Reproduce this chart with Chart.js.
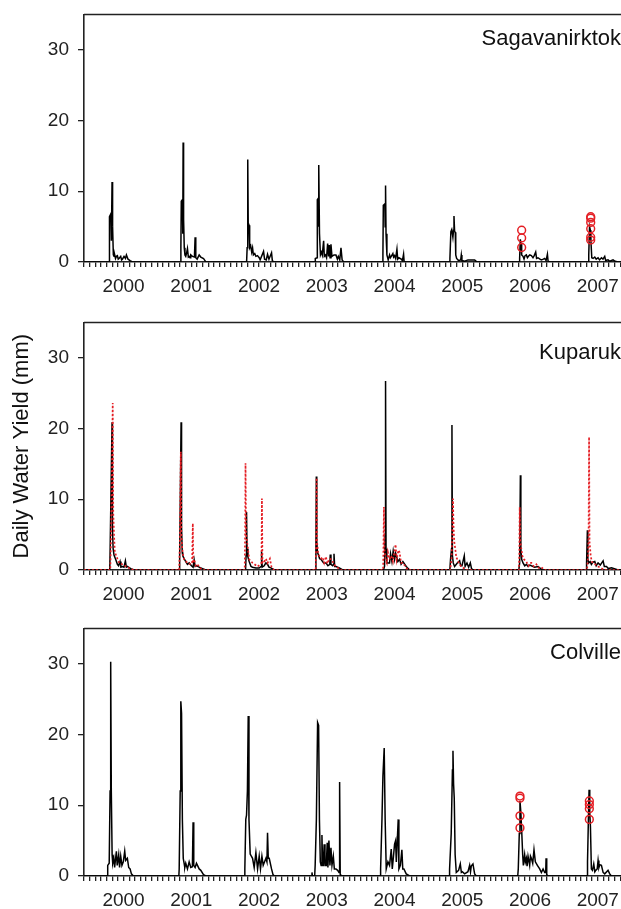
<!DOCTYPE html>
<html>
<head>
<meta charset="utf-8">
<script src="https://cdn.jsdelivr.net/npm/chart.js@4.4.1/dist/chart.umd.min.js"></script>
<style>
  html, body { margin: 0; padding: 0; background: #fff; overflow: hidden; }
  body { width: 621px; height: 909px; position: relative; }
  canvas { position: absolute; left: 0; }
</style>
</head>
<body>
<canvas id="sag" width="634" height="308" style="top:-6px"></canvas>
<canvas id="kup" width="634" height="308" style="top:302px"></canvas>
<canvas id="col" width="634" height="308" style="top:608px"></canvas>
<script>
// years and axis labels
var years = [2000, 2001, 2002, 2003, 2004, 2005, 2006, 2007];
var yearLabels = ["2000", "2001", "2002", "2003", "2004", "2005", "2006", "2007"];
var yTicks = [0, 10, 20, 30];

// Sagavanirktok, observed (fraction of year / mm per day), one row per year
var sagT = [
  [.370,.374,.378,.396,.404,.414,.422,.433,.443,.453,.465,.478,.493,.505,.517,.542,.555,.567,.591,.612,.626,.650,.680,.714],
  [.425,.430,.436,.452,.458,.463,.470,.480,.490,.502,.515,.527,.540,.552,.565,.576,.601,.630,.640,.650,.670,.700,.724,.764,.798],
  [.400,.408,.417,.424,.436,.445,.460,.475,.488,.500,.520,.537,.560,.586,.600,.650,.665,.690,.709,.730,.768,.780,.798],
  [.410,.414,.440,.444,.458,.462,.468,.476,.490,.505,.517,.537,.547,.565,.580,.596,.610,.621,.632,.645,.660,.690,.719,.740,.754,.775,.793,.810,.833],
  [.408,.412,.418,.440,.445,.451,.458,.471,.490,.510,.522,.535,.559,.570,.584,.600,.619,.630,.648,.683,.700,.717,.725,.742],
  [.397,.401,.415,.428,.445,.455,.461,.470,.480,.487,.500,.529,.560,.569,.578,.620,.667,.716,.766,.790,.805],
  [.426,.430,.440,.452,.460,.480,.495,.510,.529,.545,.560,.580,.603,.627,.645,.667,.680,.701,.730,.750,.780,.800,.820,.840,.850,.874],
  [.446,.450,.462,.474,.482,.495,.514,.539,.560,.588,.610,.637,.660,.686,.700,.735,.760,.809,.840,.883]
];
var sagV = [
  [0,1.8,6.4,6.8,3.0,11.3,5.0,1.0,0.8,1.0,0.5,0.8,0.9,0.4,0.5,0.8,0.3,0.4,0.8,0.5,1.0,0.4,0.2,0],
  [0,2.0,8.6,8.8,4.0,16.9,6.0,2.0,1.0,0.8,1.3,1.9,0.7,0.8,0.6,1.0,0.8,0.7,3.5,0.6,0.4,1.0,0.7,0.5,0],
  [0,2.0,14.5,5.5,5.2,2.0,2.3,1.4,2.0,1.0,1.2,0.8,0.9,0.6,0.3,1.5,0.4,0.3,1.1,0.4,1.3,0.2,0],
  [0,0.5,0.6,8.8,9.0,5.0,13.7,4.0,1.0,1.4,1.0,3.0,0.8,1.0,0.6,2.6,0.8,2.4,0.6,2.5,0.8,1.0,1.0,0.4,0.8,0.3,2.0,0.3,0],
  [0,1.0,8.0,8.2,5.0,10.8,4.0,1.0,0.3,1.0,0.6,0.8,1.2,0.7,0.9,0.5,1.8,0.4,0.6,0.4,0.2,1.1,0.1,0],
  [0,0.5,4.3,4.6,3.5,4.5,6.5,4.3,4.2,1.0,0.5,0.2,0.3,1.0,0.2,0.1,0.3,0.3,0.3,0.1,0],
  [0,0.5,3.2,2.5,1.0,0.8,0.4,0.9,1.0,0.6,0.8,1.0,0.9,0.6,0.9,1.4,0.5,0.6,0.4,0.3,0.4,0.5,0.2,1.1,0.1,0],
  [0,1.0,5.0,4.5,3.0,0.6,0.5,0.7,0.4,0.6,0.3,0.6,0.4,0.8,0.2,0.3,0.1,0.3,0.1,0]
];
// Sagavanirktok, red circles
var sagCircX = [2006.460, 2006.460, 2006.460, 2007.479, 2007.479, 2007.479, 2007.479, 2007.479, 2007.479];
var sagCircY = [4.5, 3.4, 2.05, 6.4, 6.2, 5.6, 4.7, 3.5, 3.1];

// Kuparuk, observed
var kupObsT = [
  [.380,.386,.414,.420,.430,.443,.468,.493,.510,.532,.545,.567,.590,.611,.625,.640,.690,.739],
  [.405,.412,.433,.440,.450,.458,.478,.502,.527,.552,.586,.610,.626,.640,.665,.700,.749,.798],
  [.385,.392,.399,.406,.420,.438,.465,.488,.537,.586,.615,.621,.630,.660,.685,.709,.730,.759,.808],
  [.418,.423,.429,.436,.446,.458,.478,.498,.537,.571,.600,.628,.635,.645,.670,.684,.690,.700,.719,.768,.818],
  [.420,.436,.444,.451,.458,.470,.486,.510,.525,.545,.564,.584,.599,.633,.658,.680,.707,.756,.806],
  [.400,.410,.425,.431,.438,.450,.470,.510,.544,.560,.579,.613,.625,.653,.677,.702,.720,.741],
  [.418,.430,.441,.448,.460,.480,.505,.530,.554,.580,.603,.652,.702,.740,.776],
  [.412,.418,.430,.437,.450,.470,.489,.510,.539,.560,.588,.620,.662,.680,.712,.740,.786,.884]
];
var kupObsV = [
  [0,3.0,20.9,6.0,3.0,2.1,1.5,0.8,0.6,1.2,0.4,0.5,0.4,1.3,0.4,0.5,0.2,0],
  [0,2.0,20.9,6.0,2.5,2.0,1.6,1.2,0.8,1.0,0.6,0.4,1.4,0.5,0.6,0.4,0.2,0],
  [0,2.0,8.2,3.0,1.8,1.2,0.5,0.4,0.3,0.3,0.5,2.6,0.4,0.6,1.0,0.8,0.4,0.3,0],
  [0,3.0,13.2,4.0,2.5,2.2,1.6,1.5,1.0,1.0,0.6,0.8,2.2,0.8,0.6,0.8,2.3,0.5,0.5,0.3,0],
  [0,0.5,5.0,26.7,3.0,1.0,1.0,1.0,2.3,1.2,2.7,1.5,2.4,1.2,1.5,0.8,1.2,0.5,0],
  [0,1.5,3.0,20.5,2.0,1.0,0.5,1.0,1.3,0.6,0.6,2.0,0.5,1.0,0.4,1.0,0.2,0],
  [0,1.0,13.4,3.0,1.5,1.0,0.6,0.8,0.5,0.7,0.6,0.4,0.5,0.2,0],
  [0,1.0,5.6,1.5,1.0,1.2,0.8,1.1,1.2,0.6,1.0,0.7,1.3,0.5,0.5,0.2,0.3,0]
];
// Kuparuk, simulated (red dotted)
var kupSimT = [
  [.388,.400,.424,.432,.443,.455,.468,.493,.520,.542,.591,.640,.700,.739],
  [.405,.415,.429,.436,.450,.465,.478,.527,.576,.596,.606,.614,.626,.650,.675,.710,.749],
  [.372,.378,.384,.392,.414,.438,.488,.562,.600,.620,.626,.634,.650,.685,.709,.744,.768,.808],
  [.420,.426,.433,.440,.455,.473,.500,.522,.545,.571,.590,.621,.655,.690,.719,.793],
  [.415,.420,.427,.434,.450,.470,.486,.510,.535,.560,.580,.599,.615,.640,.658,.680,.707,.781],
  [.405,.425,.438,.446,.455,.465,.480,.495,.510,.540,.569,.643],
  [.418,.425,.431,.440,.455,.470,.495,.529,.560,.580,.603,.640,.677,.710,.751,.800],
  [.425,.440,.448,.455,.462,.479,.495,.514,.588,.686]
];
var kupSimV = [
  [0,5.0,23.6,8.0,5.0,2.5,2.2,1.6,1.0,0.9,0.7,0.4,0.1,0],
  [0,4.0,16.7,5.0,3.0,2.0,1.5,1.0,0.8,1.0,6.6,1.0,1.5,0.6,0.8,0.3,0],
  [0,5.0,15.1,5.0,3.5,1.5,1.0,0.5,0.8,1.0,10.1,1.0,1.0,1.6,1.0,1.6,0.4,0],
  [0,4.0,13.0,4.0,2.5,2.0,1.6,1.8,1.0,1.9,0.9,1.6,1.5,0.8,0.5,0],
  [0,3.0,8.9,3.0,1.5,1.0,2.5,1.5,2.0,1.2,2.5,3.6,1.5,2.8,2.5,1.0,1.0,0],
  [0,1.5,6.0,10.1,6.0,4.0,3.0,1.8,1.5,0.8,0.5,0],
  [0,2.0,8.9,4.0,3.0,2.0,1.5,1.2,0.6,1.0,1.0,0.5,0.8,0.3,0.4,0],
  [0,2.0,5.0,18.8,4.0,2.0,1.2,1.0,0.5,0]
];

// Colville, observed
var colT = [
  [.340,.350,.372,.385,.394,.403,.415,.424,.440,.452,.478,.490,.512,.525,.542,.560,.580,.601,.615,.640,.660,.680,.700,.729],
  [.400,.405,.420,.429,.440,.452,.465,.478,.488,.502,.527,.552,.576,.600,.610,.620,.640,.660,.675,.700,.724,.764,.798],
  [.368,.374,.388,.399,.412,.424,.435,.453,.470,.488,.512,.537,.562,.586,.605,.626,.645,.685,.700,.709,.720,.734,.768,.790,.808],
  [.360,.365,.372,.405,.412,.430,.448,.463,.475,.488,.500,.512,.522,.532,.545,.557,.576,.590,.600,.615,.630,.645,.660,.680,.695,.719,.744,.764,.773,.782,.793],
  [.372,.378,.398,.412,.431,.445,.461,.486,.510,.535,.550,.565,.584,.599,.610,.638,.648,.670,.692,.705,.722,.756,.806],
  [.390,.396,.420,.438,.446,.455,.465,.478,.495,.529,.554,.570,.584,.618,.667,.692,.705,.716,.741,.766,.790],
  [.402,.410,.425,.435,.448,.460,.475,.485,.504,.515,.529,.540,.554,.578,.590,.603,.623,.642,.662,.692,.726,.751,.776,.800,.815,.820,.830,.849],
  [.425,.432,.445,.455,.465,.475,.489,.505,.524,.540,.553,.575,.588,.600,.613,.637,.662,.686,.735,.760,.784]
];
var colV = [
  [0,1.5,1.8,12.0,30.3,12.0,3.0,1.8,2.5,1.2,3.5,1.5,3.0,1.2,2.8,1.5,2.0,3.5,2.2,2.5,1.2,1.0,0.3,0],
  [0,1.0,12.0,24.7,23.0,8.0,2.5,1.8,1.2,1.8,1.0,2.0,1.2,1.3,7.6,1.5,1.2,1.8,1.5,1.0,0.8,0.2,0],
  [0,1.0,8.0,8.6,12.0,22.6,8.0,3.1,2.8,2.5,1.2,3.3,1.0,2.8,1.0,2.8,1.5,2.5,2.0,6.1,2.5,2.5,1.0,0.2,0],
  [0,0.5,0,0,1.5,8.0,21.7,21.3,8.0,2.0,1.5,5.8,1.5,1.5,4.5,1.5,1.5,4.7,1.2,5.0,1.5,4.0,1.5,2.8,1.0,1.0,0.8,0.5,13.3,0.2,0],
  [0,1.0,8.0,14.1,18.1,8.0,1.0,2.0,1.5,3.8,1.0,2.5,4.5,5.0,2.0,8.0,1.0,1.5,3.7,1.0,1.0,0.3,0],
  [0,1.0,6.0,15.0,17.7,13.0,11.0,3.0,0.5,0.8,1.7,0.5,0.6,0.3,0.6,1.5,0.6,1.4,1.7,0.3,0],
  [0,1.0,6.0,10.6,9.0,6.5,3.0,1.5,3.0,2.0,2.5,1.4,2.8,1.5,2.8,2.5,1.8,3.7,2.0,1.5,1.0,0.5,1.0,0.5,0.5,2.5,0.2,0],
  [0,2.0,8.0,12.2,9.0,7.0,1.0,0.8,1.7,0.6,0.8,1.0,2.2,1.2,1.6,1.5,0.5,0.3,0.8,0.3,0]
];
// Colville, red circles
var colCircX = [2006.435, 2006.435, 2006.435, 2006.435, 2007.459, 2007.459, 2007.459, 2007.459];
var colCircY = [11.3, 11.0, 8.5, 6.8, 10.6, 10.1, 9.5, 8.0];

var FONT = '"Liberation Sans", Arial, Helvetica, sans-serif';
var RED = "rgb(228,30,36)";
Chart.defaults.font.family = FONT;

// monthly tick marks along the x axis
var monthTicks = [];
for (var m = 0; m <= 96; m++) monthTicks.push(2000 + m / 12);

function series(t, v) {
  var pts = [{ x: 2000, y: 0 }];
  years.forEach(function (yr, k) {
    t[k].forEach(function (f, i) {
      pts.push({ x: yr + f, y: v[k][i] });
    });
  });
  pts.push({ x: 2008, y: 0 });
  return pts;
}

function points(xs, ys) {
  return xs.map(function (x, i) { return { x: x, y: ys[i] }; });
}

function obsLine(data) {
  return { data: data, borderColor: "#000", borderWidth: 1.5, pointRadius: 0, tension: 0 };
}

function circles(data) {
  return {
    data: data, showLine: false, pointRadius: 3.9, pointHoverRadius: 3.9,
    pointBorderColor: RED, pointBackgroundColor: "rgba(0,0,0,0)", pointBorderWidth: 1.5
  };
}

// top frame line and river name
var panelDecor = {
  id: "panelDecor",
  afterDraw: function (chart, args, opts) {
    var ctx = chart.ctx, a = chart.chartArea;
    ctx.save();
    ctx.strokeStyle = "#222";
    ctx.lineWidth = 1.5;
    ctx.beginPath();
    ctx.moveTo(a.left, a.top);
    ctx.lineTo(a.right, a.top);
    ctx.stroke();
    ctx.fillStyle = "#111";
    ctx.font = "22px " + FONT;
    ctx.textAlign = "right";
    ctx.textBaseline = "alphabetic";
    ctx.fillText(opts.name, a.right - 5, a.top + opts.offset);
    ctx.restore();
  }
};

function makePanel(id, name, nameOffset, datasets, yTitle) {
  return new Chart(document.getElementById(id), {
    type: "line",
    data: { datasets: datasets },
    options: {
      responsive: false,
      animation: false,
      devicePixelRatio: 1,
      layout: { padding: 0 },
      plugins: {
        legend: { display: false },
        tooltip: { enabled: false },
        panelDecor: { name: name, offset: nameOffset }
      },
      scales: {
        x: {
          type: "linear",
          min: 2000,
          max: 2008,
          afterBuildTicks: function (s) {
            s.ticks = monthTicks.map(function (v) { return { value: v }; });
          },
          afterFit: function (s) { s.height = 40; },
          ticks: {
            autoSkip: false,
            maxRotation: 0,
            padding: 8,
            color: "#222",
            font: { size: 19 },
            callback: function (v, i) {
              return i % 12 === 7 ? yearLabels[Math.floor(i / 12)] : "";
            }
          },
          grid: { drawOnChartArea: false, drawTicks: true, tickLength: 5, color: "#222", lineWidth: 1.3 },
          border: { display: true, color: "#222", width: 1.6 }
        },
        y: {
          min: 0,
          max: 35,
          afterBuildTicks: function (s) {
            s.ticks = yTicks.map(function (v) { return { value: v }; });
          },
          afterFit: function (s) { s.width = 84; },
          ticks: { padding: 9, color: "#222", font: { size: 19 } },
          grid: { drawOnChartArea: false, drawTicks: true, tickLength: 6, color: "#222", lineWidth: 1.3 },
          border: { display: true, color: "#222", width: 1.6 },
          title: {
            display: !!yTitle,
            text: yTitle || "",
            color: "#111",
            font: { size: 22 },
            padding: { top: 9, bottom: 0 }
          }
        }
      }
    },
    plugins: [panelDecor]
  });
}

makePanel("sag", "Sagavanirktok", 31, [
  circles(points(sagCircX, sagCircY)),
  obsLine(series(sagT, sagV))
]);

makePanel("kup", "Kuparuk", 36.5, [
  { data: series(kupSimT, kupSimV), borderColor: RED, borderWidth: 1.7, borderDash: [2, 2], pointRadius: 0, tension: 0 },
  obsLine(series(kupObsT, kupObsV))
], "Daily Water Yield (mm)");

makePanel("col", "Colville", 31, [
  circles(points(colCircX, colCircY)),
  obsLine(series(colT, colV))
]);
</script>
</body>
</html>
